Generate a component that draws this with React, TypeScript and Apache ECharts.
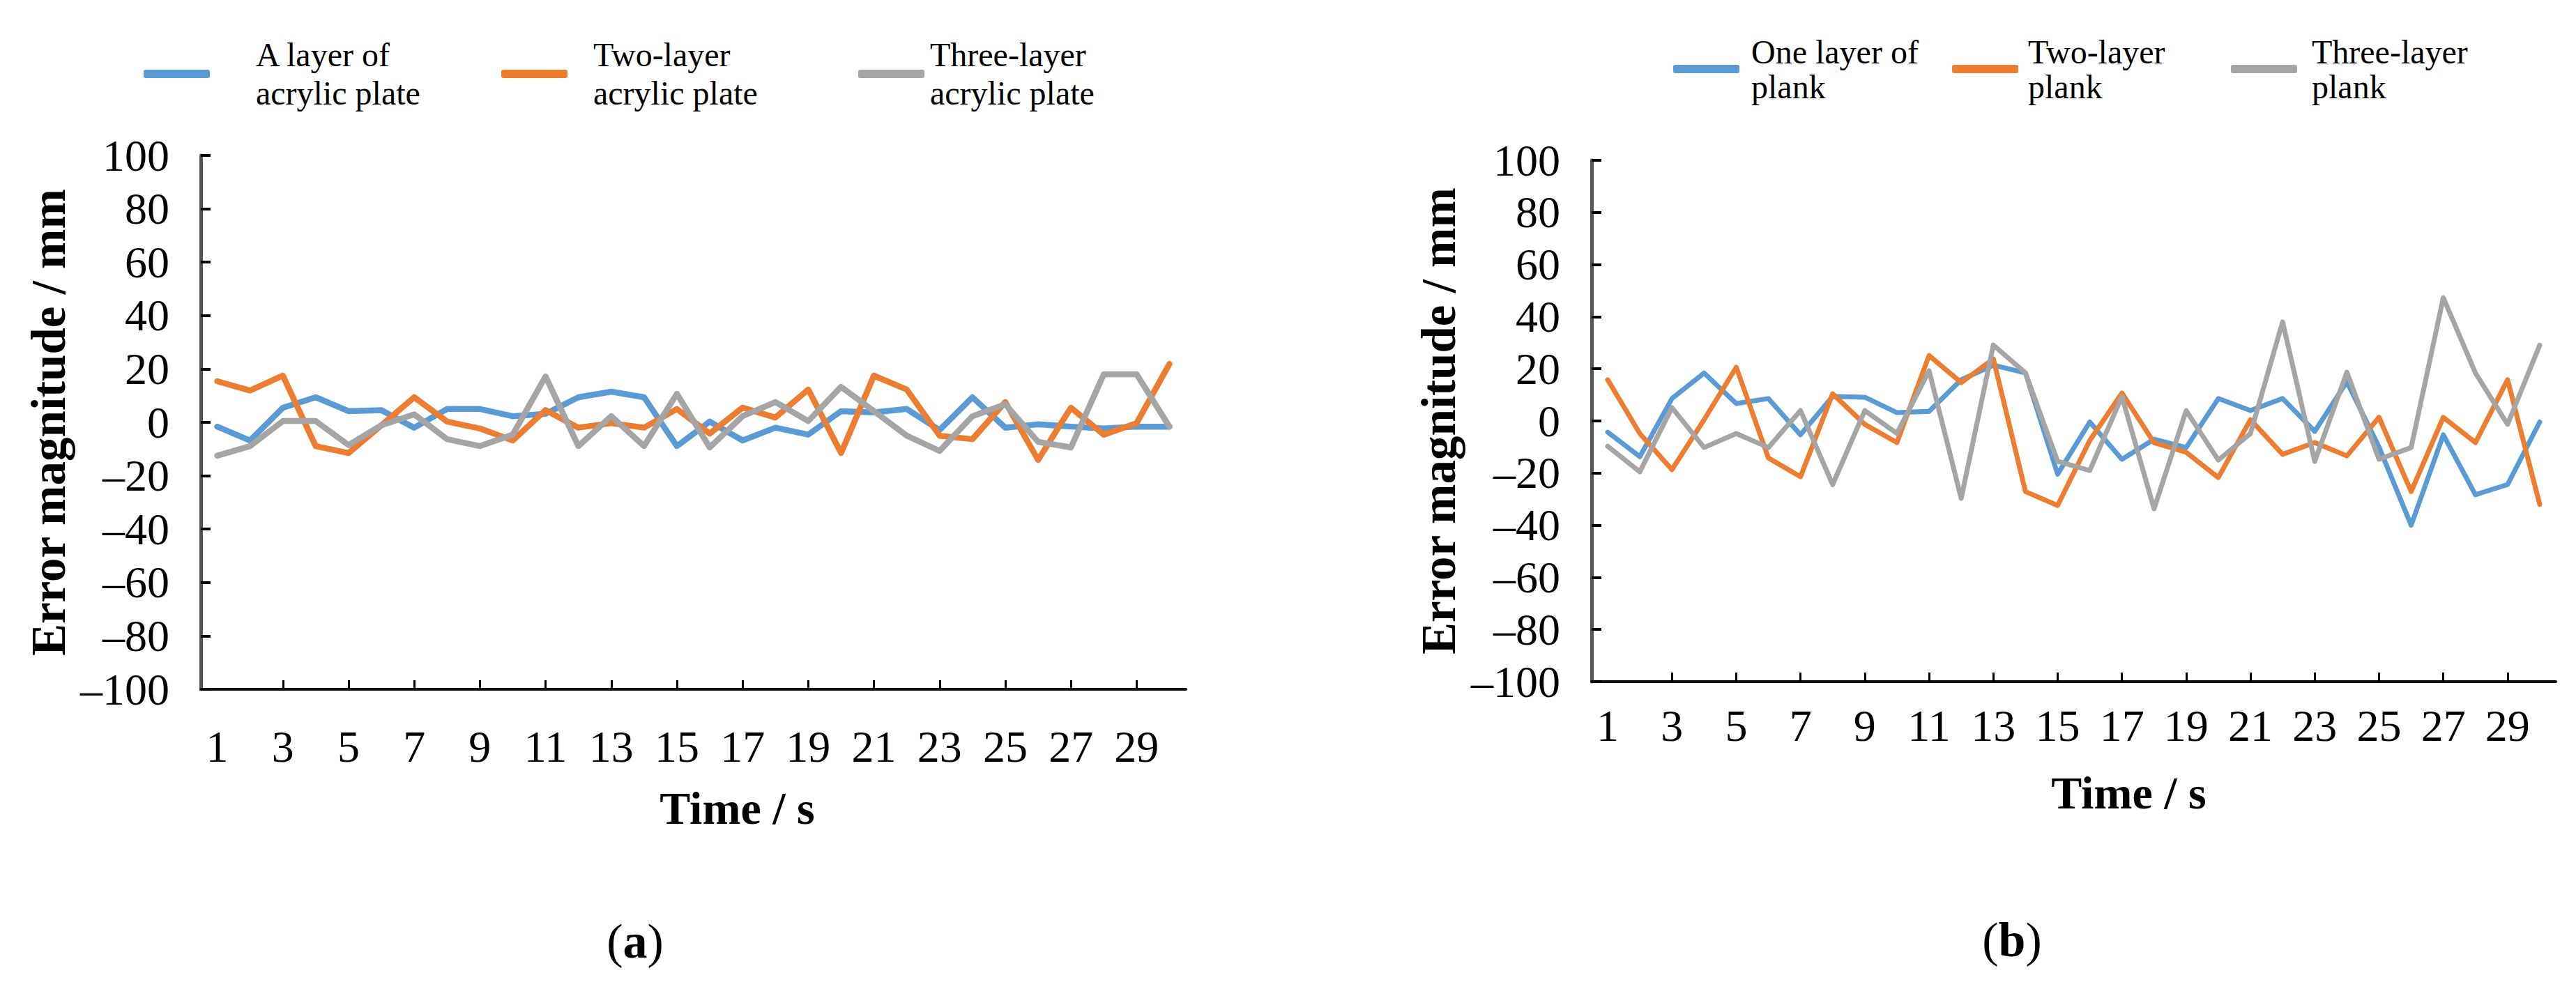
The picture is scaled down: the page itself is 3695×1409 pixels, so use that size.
import React, { useEffect, useRef } from 'react';
import * as echarts from 'echarts';

const FONT = '"Liberation Serif", "Times New Roman", serif';

// Shared categories (time in seconds)
const timeCategories = ['1', '2', '3', '4', '5', '6', '7', '8', '9', '10', '11', '12', '13', '14', '15', '16', '17', '18', '19', '20', '21', '22', '23', '24', '25', '26', '27', '28', '29', '30'];

// Panel (a): acrylic plate
const namesA = ['A layer of\nacrylic plate', 'Two-layer\nacrylic plate', 'Three-layer\nacrylic plate'];
const oneLayerAcrylic = [-1.6, -6.8, 5.5, 9.4, 4.2, 4.6, -2, 5, 5, 2.3, 3.2, 9.4, 11.5, 9.4, -8.9, 0.3, -6.8, -2, -4.6, 4.2, 3.7, 5, -2.9, 9.4, -2, -0.7, -1.6, -2.3, -1.6, -1.6];
const twoLayerAcrylic = [15.4, 11.9, 17.5, -8.9, -11.5, -1.1, 9.4, 0.3, -2.3, -6.8, 4.6, -2, -0.3, -2, 5, -4.2, 5.5, 1.8, 12.3, -11.5, 17.5, 12.3, -5, -6.3, 7.6, -14.1, 5.5, -4.6, -0.3, 21.9];
const threeLayerAcrylic = [-12.5, -8.9, 0.5, 0.5, -8.5, -1.1, 3, -6.3, -8.9, -4.6, 17.2, -8.9, 2.3, -8.9, 10.7, -9.4, 2.3, 7.6, 0.5, 13.3, 4.2, -5, -10.7, 2.3, 6.8, -7.3, -9.4, 18, 18, -1.6];

// Panel (b): plank
const namesB = ['One layer of\nplank', 'Two-layer\nplank', 'Three-layer\nplank'];
const oneLayerPlank = [-4.3, -13.7, 8.6, 18.4, 6.7, 8.6, -5.3, 9.4, 9.1, 3.2, 3.7, 15.8, 21.4, 18.4, -20.4, -0.4, -14.7, -7, -10.2, 8.6, 4, 8.6, -4, 15, -10, -40, -5.3, -28.3, -24.4, -0.4];
const twoLayerPlank = [15.8, -4.8, -18.7, 0.5, 20.6, -14.2, -21.4, 10.4, -1.3, -8.3, 25.1, 14.7, 23.8, -27.1, -32.4, -7.5, 10.7, -8.3, -12, -21.7, 0.5, -12.8, -8.3, -13.4, 1.4, -27.1, 1.4, -8.3, 15.8, -32];
const threeLayerPlank = [-9.7, -19.5, 5.1, -10.2, -4.8, -10.2, 4, -24.4, 4, -4.8, 19.3, -29.7, 29.1, 18.4, -15.5, -19, 9.4, -33.7, 4, -15, -4.8, 38, -15.5, 18.7, -14.7, -10.2, 47.3, 18.4, -1.3, 29.1];

const COLORS = ['#5B9BD5', '#ED7D31', '#A5A5A5'];

function xAxisFor(gridIndex: number, labelMargin: number, nameGap: number, namePad: number) {
  return {
    type: 'category',
    gridIndex,
    data: timeCategories,
    boundaryGap: true,
    name: 'Time / s',
    nameLocation: 'middle',
    nameGap,
    nameTextStyle: { fontFamily: FONT, fontSize: 66, fontWeight: 'bold', color: '#000', padding: [0, 0, 0, namePad] },
    axisLine: {
      show: true,
      onZero: false,
      lineStyle: { color: '#111', width: 4 },
    },
    axisTick: {
      show: true,
      inside: true,
      alignWithLabel: true,
      length: 13,
      interval: (index: number) => index > 0 && index % 2 === 0,
      lineStyle: { color: '#000', width: 3 },
    },
    axisLabel: { interval: 1, margin: labelMargin, fontFamily: FONT, fontSize: 64, color: '#000' },
    splitLine: { show: false },
  };
}

function yAxisFor(gridIndex: number, nameGap: number) {
  return {
    type: 'value',
    gridIndex,
    min: -100,
    max: 100,
    interval: 20,
    name: 'Error magnitude / mm',
    nameLocation: 'middle',
    nameRotate: 90,
    nameGap,
    nameTextStyle: { fontFamily: FONT, fontSize: 69, fontWeight: 'bold', color: '#000' },
    axisLine: {
      show: true,
      lineStyle: { color: '#555', width: 5 },
    },
    axisTick: { show: true, inside: true, length: 14, lineStyle: { color: '#000', width: 4 } },
    axisLabel: {
      margin: 45,
      fontFamily: FONT,
      fontSize: 64,
      color: '#000',
      formatter: (v: number) => (v < 0 ? '\u2013' + Math.abs(v) : String(v)),
    },
    splitLine: { show: false },
  };
}

function lineSeries(name: string, data: number[], color: string, idx: number, width: number) {
  return {
    type: 'line',
    name,
    data,
    xAxisIndex: idx,
    yAxisIndex: idx,
    symbol: 'none',
    showSymbol: false,
    color,
    itemStyle: { color },
    lineStyle: { color, width, join: 'round', cap: 'round' },
  };
}

function legendFor(name: string, left: number, top: number, padLeft: number, padBottom: number, lineHeight: number) {
  return {
    data: [name],
    left,
    top,
    padding: 0,
    orient: 'horizontal',
    icon: 'roundRect',
    itemWidth: 95,
    itemHeight: 12,
    selectedMode: false,
    textStyle: { fontFamily: FONT, fontSize: 48, lineHeight, color: '#000', padding: [0, 0, padBottom, padLeft] },
  };
}

export default function App() {
  const ref = useRef<HTMLDivElement>(null);

  useEffect(() => {
    if (!ref.current) return;
    const chart = echarts.init(ref.current, undefined, { renderer: 'svg' });
    const seriesA = [oneLayerAcrylic, twoLayerAcrylic, threeLayerAcrylic].map((d, i) => lineSeries(namesA[i], d, COLORS[i], 0, 8.5));
    const seriesB = [oneLayerPlank, twoLayerPlank, threeLayerPlank].map((d, i) => lineSeries(namesB[i], d, COLORS[i], 1, 7));
    chart.setOption({
      animation: false,
      backgroundColor: '#fff',
      grid: [
        { left: 288, top: 223, width: 1413, height: 766 },
        { left: 2283, top: 230, width: 1383, height: 748 },
      ],
      xAxis: [xAxisFor(0, 50, 137, 126), xAxisFor(1, 31, 126, 158)],
      yAxis: [yAxisFor(0, 184), yAxisFor(1, 185)],
      legend: [
        legendFor(namesA[0], 206, 41, 61, 20, 55),
        legendFor(namesA[1], 719, 41, 32, 20, 55),
        legendFor(namesA[2], 1231, 41, 3, 20, 55),
        legendFor(namesB[0], 2400, 35, 12, 28, 50),
        legendFor(namesB[1], 2800, 35, 9, 28, 50),
        legendFor(namesB[2], 3200, 35, 16, 28, 50),
      ],
      graphic: [
        {
          type: 'text',
          x: 911,
          y: 1350,
          style: {
            text: '{n|(}{b|a}{n|)}',
            align: 'center',
            verticalAlign: 'middle',
            rich: {
              n: { fontFamily: FONT, fontSize: 70, fill: '#000' },
              b: { fontFamily: FONT, fontSize: 70, fontWeight: 'bold', fill: '#000' },
            },
          },
        },
        {
          type: 'text',
          x: 2886,
          y: 1348,
          style: {
            text: '{n|(}{b|b}{n|)}',
            align: 'center',
            verticalAlign: 'middle',
            rich: {
              n: { fontFamily: FONT, fontSize: 70, fill: '#000' },
              b: { fontFamily: FONT, fontSize: 70, fontWeight: 'bold', fill: '#000' },
            },
          },
        },
      ],
      series: [...seriesA, ...seriesB],
    });
    return () => chart.dispose();
  }, []);

  return (
    <div
      ref={ref}
      style={{ position: 'absolute', left: 0, top: 0, width: 3695, height: 1409, background: '#fff' }}
    />
  );
}
